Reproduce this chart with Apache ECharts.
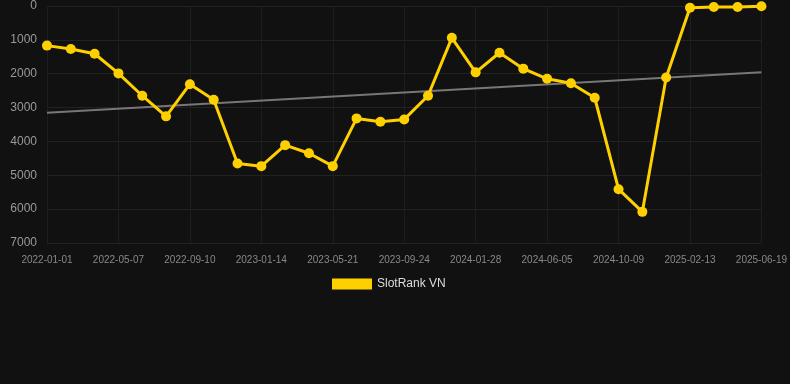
<!DOCTYPE html>
<html>
<head>
<meta charset="utf-8">
<script src="https://cdn.jsdelivr.net/npm/echarts@6/dist/echarts.min.js"></script>
<style>
html,body{margin:0;padding:0;background:#111111;}
#EchartDiv{width:790px;height:384px;}
</style>
</head>
<body>
<div id="EchartDiv"></div>
<script>
var arrDates = ['2022-01-01','2022-02-12','2022-03-26','2022-05-07','2022-06-18','2022-07-30',
	'2022-09-10','2022-10-22','2022-12-03','2023-01-14','2023-02-25','2023-04-08',
	'2023-05-21','2023-07-02','2023-08-13','2023-09-24','2023-11-05','2023-12-17',
	'2024-01-28','2024-03-10','2024-04-21','2024-06-05','2024-07-17','2024-08-28',
	'2024-10-09','2024-11-20','2025-01-01','2025-02-13','2025-03-27','2025-05-08','2025-06-19'];
var arrRank = [1170,1270,1410,1990,2650,3260,2310,2770,4650,4730,4110,4350,
	4730,3320,3420,3350,2650,940,1960,1380,1850,2150,2280,2710,
	5410,6080,2110,50,30,30,10];
var arrTrend = [[0,3150],[30,1960]];   //趋势线两端
var yTicks = [0,1000,2000,3000,4000,5000,6000,7000];

var myChart = echarts.init(document.getElementById('EchartDiv'));
var option = {
	backgroundColor:'#111111',
	animation:false,
	grid:{
		left:47,
		right:28,
		top:6,
		bottom:141
	},
	legend:{
		data:['SlotRank VN'],
		left:327,
		top:273,
		itemWidth:40,
		itemHeight:11,
		itemGap:6,
		icon:'rect',
		textStyle:{color:'#dddddd',fontSize:12,fontFamily:'Arial, Liberation Sans, sans-serif'}
	},
	xAxis:{
		type:'category',
		data:arrDates,
		boundaryGap:false,
		axisLine:{show:false},
		axisTick:{show:false},
		axisLabel:{
			interval:2,
			color:'#888888',
			fontSize:10,
			margin:12,
			fontFamily:'Arial, Liberation Sans, sans-serif'
		},
		splitLine:{show:true,interval:2,lineStyle:{color:'#1e1e1e',width:1}}
	},
	yAxis:{
		type:'value',
		inverse:true,
		min:yTicks[0],
		max:yTicks[yTicks.length-1],
		interval:1000,
		axisLine:{show:false},
		axisTick:{show:false},
		axisLabel:{
			color:'#999999',
			fontSize:12,
			margin:10,
			formatter:function(v){ return String(v); },
			fontFamily:'Arial, Liberation Sans, sans-serif'
		},
		splitLine:{lineStyle:{color:'#222222',width:1}}
	},
	series:[
		{
			name:'trend',
			type:'line',
			data:arrTrend,
			symbol:'none',
			silent:true,
			z:1,
			lineStyle:{color:'#777777',width:2}
		},
		{
			name:'SlotRank VN',
			type:'line',
			data:arrRank,
			symbol:'circle',
			symbolSize:10,
			z:3,
			itemStyle:{color:'#FFD000'},
			lineStyle:{color:'#FFD000',width:3}
		}
	]
};
myChart.setOption(option);
</script>
</body>
</html>
